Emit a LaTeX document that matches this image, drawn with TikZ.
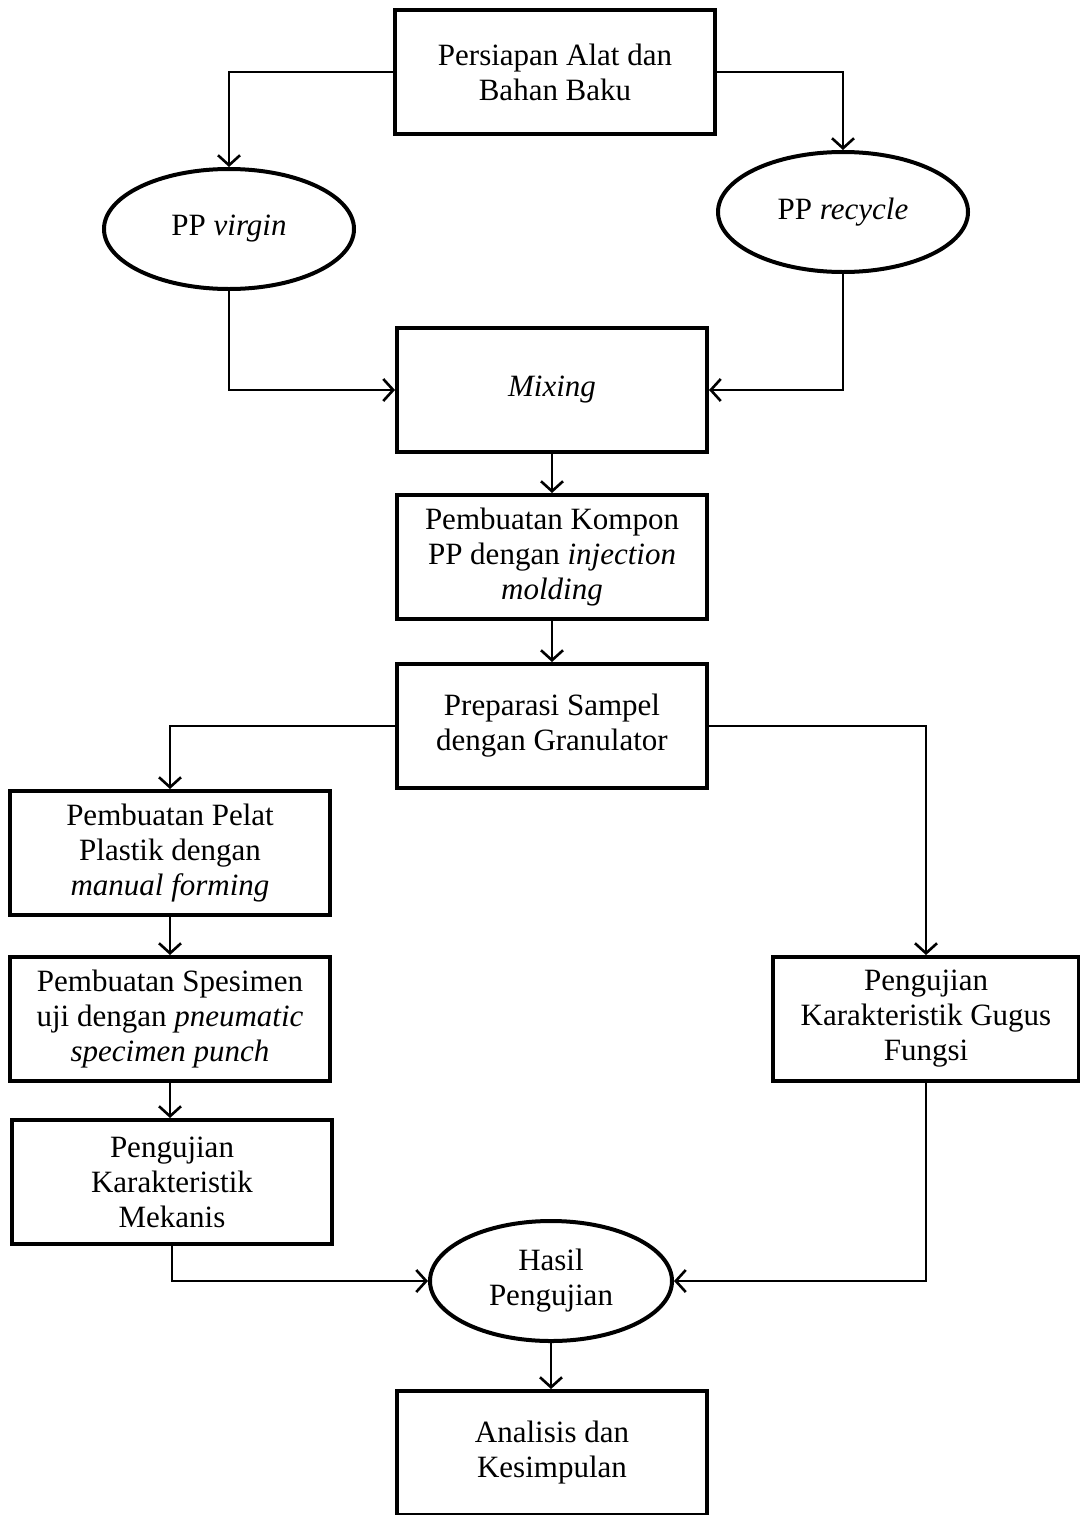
\documentclass[tikz,border=0pt]{standalone}
\usepackage{fontspec}
\setmainfont{Liberation Serif}
\usepackage{tikz}
\usetikzlibrary{shapes.geometric,arrows.meta}

\begin{document}
\begin{tikzpicture}[x=0.5pt,y=-0.5pt,
    procbox/.style={rectangle, draw=black, line width=2pt, minimum width=160pt, minimum height=62pt, align=center, inner sep=2pt, font=\fontsize{15.5}{17.5}\selectfont},
    databox/.style={ellipse, draw=black, line width=2pt, minimum width=125pt, minimum height=60pt, align=center, inner sep=0pt, font=\fontsize{15.5}{17.5}\selectfont},
    flow/.style={-{Straight Barb[length=5pt,width=11pt,line width=1.3pt]}, line width=1.3pt}]
        \useasboundingbox (0,0) rectangle (1080,1515);
        \node[procbox] (persiapan) at (555,72) {Persiapan Alat dan\\Bahan Baku};
        \node[databox] (virgin) at (229,229) {PP \textit{virgin}};
        \node[databox] (recycle) at (843,212) {PP \textit{recycle}};
        \node[procbox, minimum width=155pt] (mixing) at (552,390) {\textit{Mixing}};
        \node[procbox, minimum width=155pt] (kompon) at (552,557) {Pembuatan Kompon\\PP dengan \textit{injection}\\\textit{molding}};
        \node[procbox, minimum width=155pt] (preparasi) at (552,726) {Preparasi Sampel\\dengan Granulator};
        \node[procbox] (pelat) at (170,853) {Pembuatan Pelat\\Plastik dengan\\\textit{manual forming}};
        \node[procbox] (spesimen) at (170,1019) {Pembuatan Spesimen\\uji dengan \textit{pneumatic}\\\textit{specimen punch}};
        \node[procbox] (mekanis) at (172,1182) {Pengujian\\Karakteristik\\Mekanis};
        \node[procbox, minimum width=153pt] (gugus) at (926,1019) {Pengujian\\Karakteristik Gugus\\Fungsi};
        \node[databox, minimum width=121pt] (hasil) at (551,1281) {Hasil\\Pengujian};
        \node[procbox, minimum width=155pt] (analisis) at (552,1453) {Analisis dan\\Kesimpulan};

        \draw[flow] (persiapan.west) -| (virgin.north);
        \draw[flow] (persiapan.east) -| (recycle.north);
        \draw[flow] (virgin.south) |- (mixing.west);
        \draw[flow] (recycle.south) |- (mixing.east);
        \draw[flow] (mixing) -- (kompon);
        \draw[flow] (kompon) -- (preparasi);
        \draw[flow] (preparasi.west) -| (pelat.north);
        \draw[flow] (preparasi.east) -| (gugus.north);
        \draw[flow] (pelat) -- (spesimen);
        \draw[flow] (spesimen.south) -- (spesimen.south |- mekanis.north);
        \draw[flow] (mekanis.south) |- (hasil.west);
        \draw[flow] (gugus.south) |- (hasil.east);
        \draw[flow] (hasil.south) -- (hasil.south |- analisis.north);

    \end{tikzpicture}
\end{document}
